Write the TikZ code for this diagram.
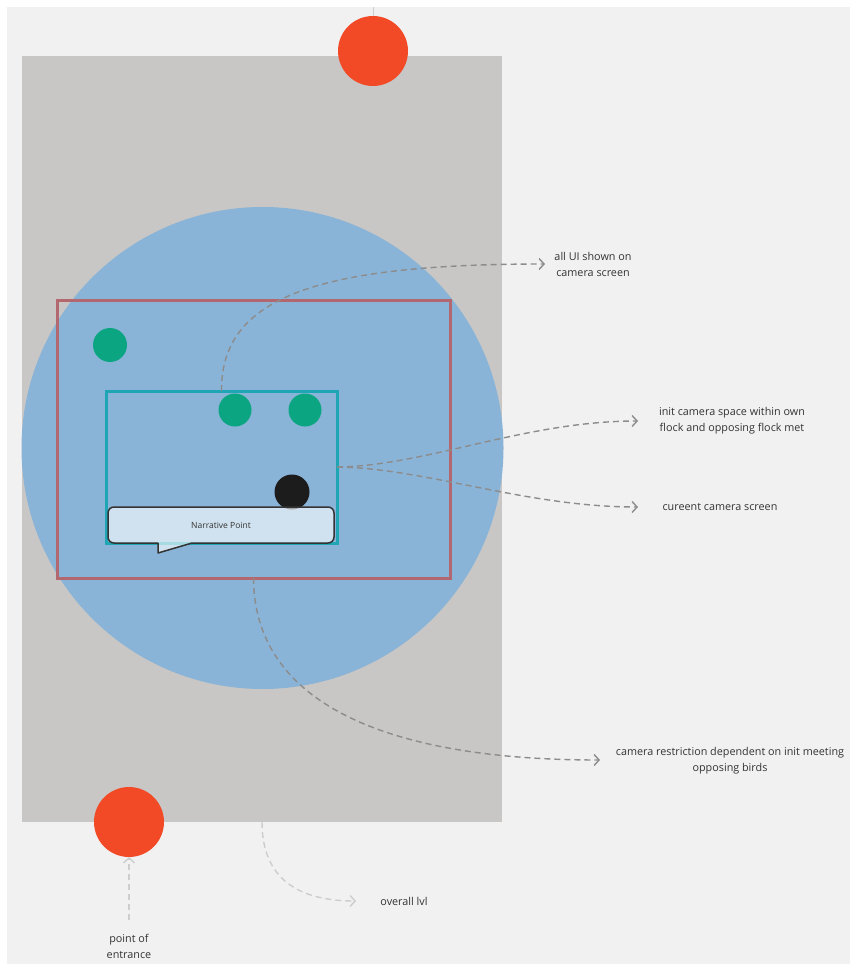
\documentclass[tikz,border=0pt]{standalone}
\usepackage{fontspec}
\setmainfont{Open Sans}
\usetikzlibrary{arrows.meta}
\definecolor{panel}{HTML}{F1F1F1}
\definecolor{lvlgrey}{HTML}{C8C7C5}
\definecolor{entred}{HTML}{F24A27}
\definecolor{zoneblue}{HTML}{8AB4D7}
\definecolor{initred}{HTML}{B3676F}
\definecolor{camteal}{HTML}{1EA6B4}
\definecolor{birdgreen}{HTML}{0CA582}
\definecolor{birdblack}{HTML}{1C1C1C}
\definecolor{conngrey}{HTML}{8C8C8C}
\definecolor{lightconn}{HTML}{CDCDCD}
\definecolor{txt}{HTML}{333333}
\begin{document}
\begin{tikzpicture}[x=1pt,y=-1pt,
  box/.style={inner sep=0pt,outer sep=0pt,anchor=north west},
  dot/.style={circle,inner sep=0pt,outer sep=0pt},
  conn/.style={draw=conngrey,line width=1.4pt,dash pattern=on 6pt off 4pt,-{Straight Barb[length=5pt,width=11pt,line width=1.4pt]}},
  lconn/.style={draw=lightconn,line width=1.4pt,dash pattern=on 6pt off 4pt,-{Straight Barb[length=5pt,width=11pt,line width=1.4pt]}},
  lbl/.style={font=\fontsize{10.8}{16}\selectfont,text=txt,align=center,inner sep=0pt}]
\useasboundingbox (0,0) rectangle (850,965);
\fill[panel] (7,7) rectangle (850,964);
% overall level
\node[box,fill=lvlgrey,minimum width=480pt,minimum height=766pt] (lvl) at (22,56) {};
\draw[lightconn,line width=1pt,-] (373,7) -- (373,16);
\node[dot,fill=entred,minimum size=70pt] (top) at (373,51) {};
\node[dot,fill=entred,minimum size=70pt] (entry) at (129,822) {};
% restriction zone
\node[dot,fill=zoneblue,minimum size=482pt] (zone) at (262.5,448) {};
\node[box,draw=initred,line width=3pt,minimum width=393pt,minimum height=278pt] (init) at (57,300) {};
\node[box,draw=camteal,line width=3pt,minimum width=231pt,minimum height=152pt] (cam) at (106,391) {};
% birds
\node[dot,fill=birdgreen,minimum size=34pt] (g1) at (110,345) {};
\node[dot,fill=birdgreen,minimum size=33pt] (g2) at (235,410) {};
\node[dot,fill=birdgreen,minimum size=33pt] (g3) at (305,410) {};
\node[dot,fill=birdblack,minimum size=35pt] (b1) at (292,492) {};
% narrative bubble
\filldraw[fill=white,fill opacity=0.6,draw=txt,line width=1.5pt,line join=round]
  (158,553) -- (158,543) [rounded corners=6pt] -- (108,543) -- (108,507) -- (334,507) -- (334,543) [sharp corners] -- (192,543) -- cycle;
\node[font=\fontsize{8.5}{10}\selectfont,text=txt,inner sep=0pt] (np) at (221,525) {Narrative Point};
% labels
\node[lbl] (l1) at (593,264) {all UI shown on\\camera screen};
\node[lbl] (l2) at (732,421) {init camera space within own\\flock and opposing flock met};
\node[lbl] (l3) at (720,507) {cureent camera screen};
\node[lbl] (l4) at (730,761) {camera restriction dependent on init meeting\\opposing birds};
\node[lbl] (l5) at (404,901) {overall lvl};
\node[lbl] (l6) at (129,946) {point of\\entrance};
\coordinate (e1) at (545,264);
\coordinate (e2) at (638,421);
\coordinate (e3) at (638,507);
\coordinate (e4) at (600,760);
\coordinate (e5) at (356,901);
\coordinate (s6) at (129,920);
% connectors
\draw[conn] (cam.north) .. controls (221,300) and (310,264) .. (e1);
\draw[conn] (cam.east) .. controls (425,466) and (525,421) .. (e2);
\draw[conn] (cam.east) .. controls (425,468) and (525,507) .. (e3);
\draw[conn] (init.south) .. controls (254,700) and (380,760) .. (e4);
\draw[lconn] (lvl.south) .. controls (262,880) and (300,901) .. (e5);
\draw[lconn] (s6) -- (entry.south);
\end{tikzpicture}
\end{document}
